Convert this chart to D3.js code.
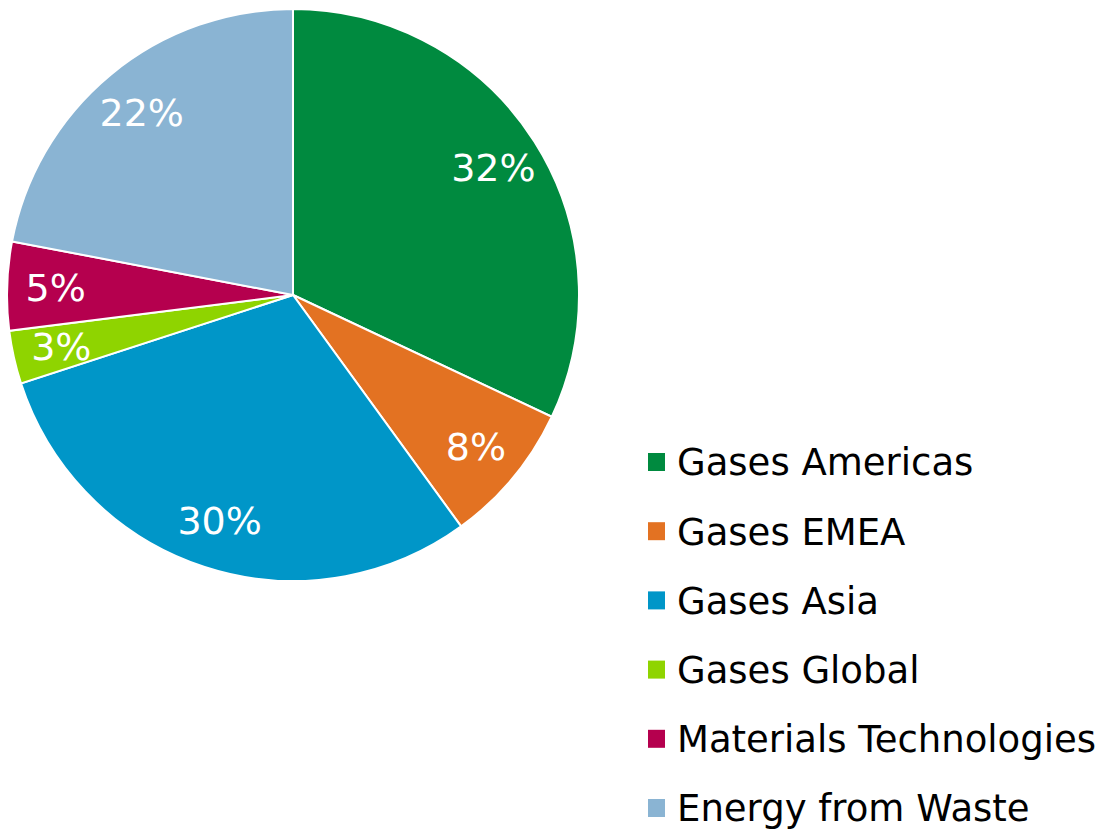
<!DOCTYPE html>
<html><head><meta charset="utf-8">
<script src="https://cdn.jsdelivr.net/npm/d3@7"></script>
<style>html,body{margin:0;padding:0;background:#fff;}svg{display:block;}</style>
</head><body>
<svg id="chart" width="1101" height="829"></svg>
<script>
const categories = ["Gases Americas","Gases EMEA","Gases Asia","Gases Global","Materials Technologies","Energy from Waste"];
const values = [32, 8, 30, 3, 5, 22];
const labels = ["32%","8%","30%","3%","5%","22%"];
const colors = ["#008A3F","#E37222","#0096C8","#8FD400","#B5004E","#8AB4D3"];

const svg = d3.select("#chart");
const cx = 293, cy = 295, r = 286;
const font = "Verdana, 'DejaVu Sans', sans-serif";

const pie = d3.pie().sort(null).value(d => d)(values);
const arc = d3.arc().innerRadius(0).outerRadius(r);
const labelArc = d3.arc().innerRadius(r*0.83).outerRadius(r*0.83);

const g = svg.append("g").attr("transform", `translate(${cx},${cy})`);
g.selectAll("path").data(pie).join("path")
  .attr("d", arc).attr("fill", (d,i) => colors[i])
  .attr("stroke", "#fff").attr("stroke-width", 2);

g.selectAll("text").data(pie).join("text")
  .attr("transform", d => `translate(${labelArc.centroid(d)})`)
  .attr("text-anchor", "middle").attr("dy", "0.36em")
  .attr("fill", "#fff").style("font-family", font).style("font-size", "38px")
  .text((d,i) => labels[i]);

const leg = svg.append("g").attr("transform", "translate(648,462)");
const row = leg.selectAll("g").data(categories).join("g")
  .attr("transform", (d,i) => `translate(0,${i*69.2})`);
row.append("rect").attr("x", 0).attr("y", -9).attr("width", 17).attr("height", 18)
  .attr("fill", (d,i) => colors[i]);
row.append("text").attr("x", 29).attr("dy", "0.36em")
  .style("font-family", font).style("font-size", "37px").attr("fill", "#000")
  .text(d => d);
</script>
</body></html>
